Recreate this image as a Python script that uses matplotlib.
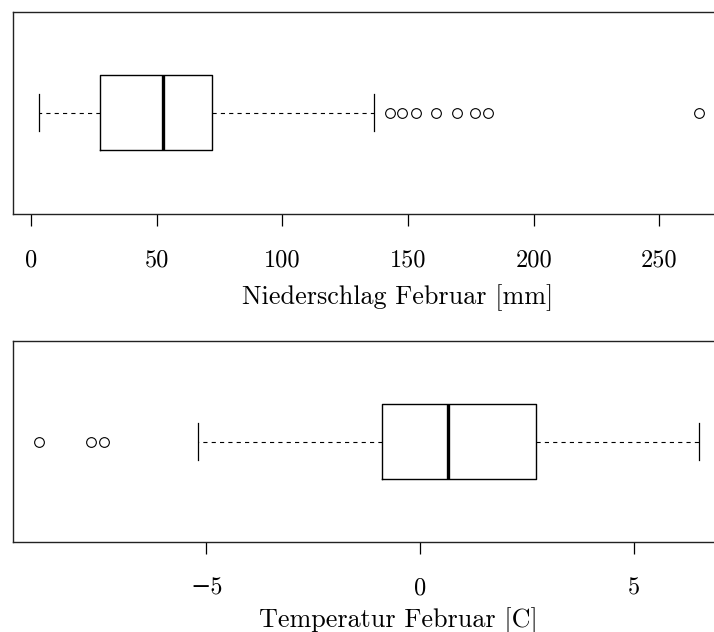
import matplotlib
matplotlib.use("Agg")
import matplotlib.pyplot as plt
import numpy as np

plt.rcParams['font.family'] = ['cmr10', 'DejaVu Serif']
plt.rcParams['lines.scale_dashes'] = False

# --- data ---
rain_label = "Niederschlag Februar [mm]"
rain_whislo = 3.3
rain_q1 = 27.5
rain_med = 52.5
rain_q3 = 72.2
rain_whishi = 136.5
rain_fliers = [142.8, 147.8, 153.1, 161.2, 169.4, 176.7, 181.9, 265.7]
rain_ticks = [0, 50, 100, 150, 200, 250]

temp_label = "Temperatur Februar [C]"
temp_whislo = -5.20
temp_q1 = -0.9
temp_med = 0.655
temp_q3 = 2.705
temp_whishi = 6.51
temp_fliers = [-8.91, -7.71, -7.40]
temp_ticks = [-5, 0, 5]

W, H = 714, 632
fig = plt.figure(figsize=(W / 100, H / 100), dpi=100)

left_px = 12.8
width_px = 712.4
label_center_px = 398.0

def panel(top_px, bottom_px, label_base_px, stats, ticks, label):
    hgt = bottom_px - top_px
    ax = fig.add_axes([left_px / W, 1 - bottom_px / H, width_px / W, hgt / H])
    lo = min([stats['whislo']] + list(stats['fliers']))
    hi = max([stats['whishi']] + list(stats['fliers']))
    r = hi - lo
    ax.set_xlim(lo - 0.04 * r, hi + 0.04 * r)
    kw = dict(positions=[1], widths=0.4, capwidths=0.2,
              boxprops=dict(color='black', linewidth=1.0),
              medianprops=dict(color='black', linewidth=2.4,
                               solid_capstyle='butt'),
              whiskerprops=dict(color='black', linewidth=0.8,
                                linestyle=(0, (3.0, 3.0))),
              capprops=dict(color='black', linewidth=0.9),
              flierprops=dict(marker='o', markersize=7.0,
                              markerfacecolor='none',
                              markeredgecolor='black',
                              markeredgewidth=0.8, linestyle='none'))
    try:
        ax.bxp([stats], orientation='horizontal', **kw)
    except TypeError:
        ax.bxp([stats], vert=False, **kw)
    ax.set_ylim(0.46, 1.54)
    ax.set_yticks([])
    ax.set_xticks(ticks)
    ax.set_xticklabels([("\u2212" + str(abs(t))) if t < 0 else str(t)
                        for t in ticks])
    ax.tick_params(axis='x', direction='out', length=8.6, width=0.9,
                   pad=17, labelsize=17.5)
    ax.spines['right'].set_visible(False)
    for s in ('left', 'top', 'bottom'):
        ax.spines[s].set_linewidth(1.0)
        ax.spines[s].set_color('#222222')
    ax.set_xlabel(label, fontsize=18.8)
    ax.xaxis.label.set_verticalalignment('baseline')
    ax.xaxis.set_label_coords((label_center_px - left_px) / width_px,
                              -(label_base_px - bottom_px) / hgt)
    return ax

rain = dict(whislo=rain_whislo, q1=rain_q1, med=rain_med, q3=rain_q3,
            whishi=rain_whishi, fliers=rain_fliers)
temp = dict(whislo=temp_whislo, q1=temp_q1, med=temp_med, q3=temp_q3,
            whishi=temp_whishi, fliers=temp_fliers)

panel(11.7, 213.7, 304.0, rain, rain_ticks, rain_label)
panel(340.7, 542.3, 627.5, temp, temp_ticks, temp_label)

fig.savefig("out.png", dpi=100)
